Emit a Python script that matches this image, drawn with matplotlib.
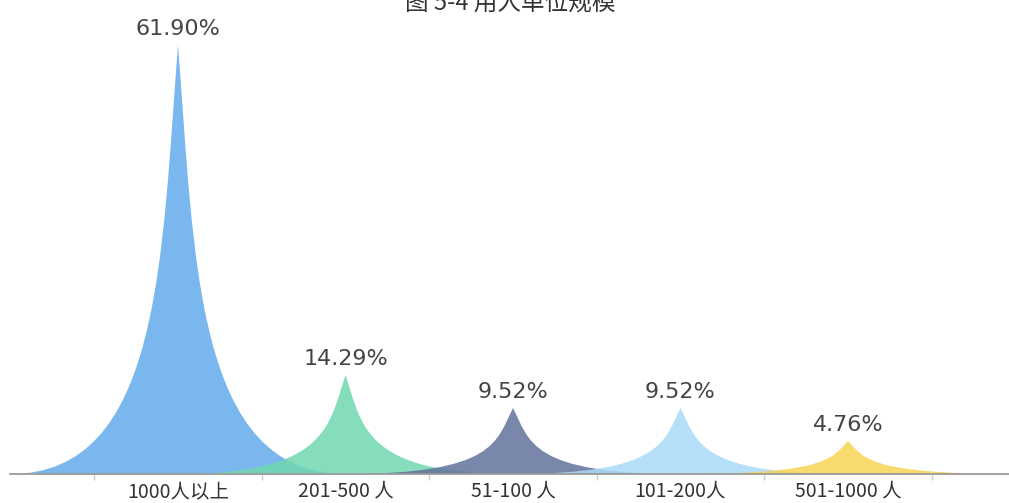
import matplotlib
matplotlib.use("Agg")
import matplotlib.pyplot as plt
from matplotlib.path import Path
from matplotlib.patches import PathPatch

plt.rcParams['font.family'] = ['Noto Sans CJK SC', 'DejaVu Sans']

title = "图 5-4 用人单位规模"
categories = ["1000人以上", "201-500 人", "51-100 人", "101-200人", "501-1000 人"]
values = [61.90, 14.29, 9.52, 9.52, 4.76]
value_labels = ["61.90%", "14.29%", "9.52%", "9.52%", "4.76%"]
colors = ["#62abeb", "#71d8b0", "#62729b", "#a9daf7", "#f8d454"]

W, H = 1009, 503
fig = plt.figure(figsize=(W / 100, H / 100), dpi=100)
ax = fig.add_axes([10 / W, 29 / H, 999 / W, 429 / H])

half = 1.0  # half width of the spike in category units


def spike(xc, h):
    # ECharts-like path: M0,10 L10,10 C5.5,10 5.5,5 5,0 C4.5,5 4.5,10 0,10 z
    def P(u, v):
        return (xc - half + u / 10 * 2 * half, h * (10 - v) / 10)
    verts = [P(0, 10), P(10, 10), P(5.5, 10), P(5.5, 5), P(5, 0),
             P(4.5, 5), P(4.5, 10), P(0, 10), P(0, 10)]
    codes = [Path.MOVETO, Path.LINETO, Path.CURVE4, Path.CURVE4, Path.CURVE4,
             Path.CURVE4, Path.CURVE4, Path.CURVE4, Path.CLOSEPOLY]
    return Path(verts, codes)


for i, (v, c, lab) in enumerate(zip(values, colors, value_labels)):
    ax.add_patch(PathPatch(spike(i, v), facecolor=c, edgecolor='none', alpha=0.85, zorder=2))
    ax.annotate(lab, (i, v), xytext=(0, 4), textcoords='offset points',
                ha='center', va='bottom', fontsize=16, color='#444444',
                family=['DejaVu Sans'])

ax.set_xlim((10 - 178) / 167.5, (1009 - 178) / 167.5)
ax.set_ylim(0, 61.90)
for s in ['top', 'right', 'left']:
    ax.spines[s].set_visible(False)
ax.spines['bottom'].set_color('#9a9a9a')
ax.spines['bottom'].set_linewidth(1.3)
ax.spines['bottom'].set_zorder(3)
ax.set_yticks([])
ax.set_xticks([i - 0.5 for i in range(len(categories) + 1)])
ax.set_xticklabels([])
ax.set_xticks(range(len(categories)), minor=True)
ax.set_xticklabels(categories, minor=True, fontsize=14, color='#333333')
ax.tick_params(axis='x', which='major', length=4, color='#cccccc', width=1)
ax.tick_params(axis='x', which='minor', length=0, pad=5)

fig.text(510 / W, 1 - 10 / H, title, ha='center', va='baseline', fontsize=17, color='#333333')

fig.savefig("out.png", dpi=100, facecolor='white')
